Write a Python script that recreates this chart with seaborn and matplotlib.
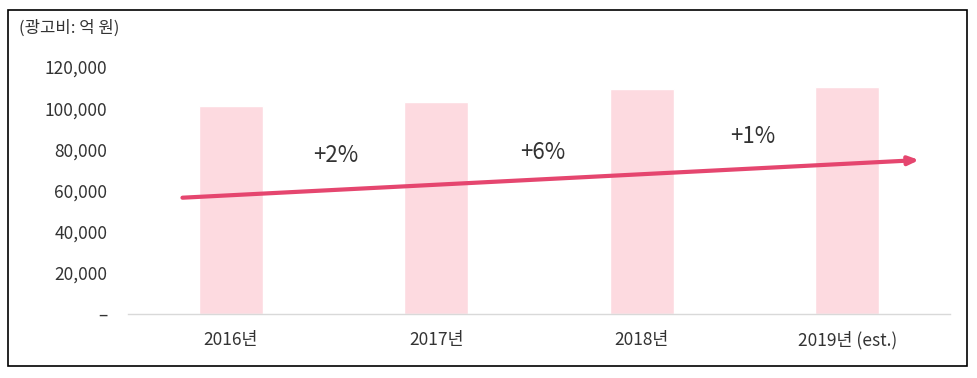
import pandas as pd
import seaborn as sns
import matplotlib as mpl
from matplotlib import pyplot as plt
from matplotlib.patches import Rectangle

sns.set_style("white")
plt.rcParams['font.family'] = ['Noto Sans CJK KR', 'DejaVu Sans']

# data (억 원)
years = ["2016년", "2017년", "2018년", "2019년 (est.)"]
spend = [100900, 102900, 109200, 110300]
growth_labels = ["+2%", "+6%", "+1%"]
growth_x = [0.51, 1.52, 2.54]
growth_y = [77200, 78600, 86400]
y_ticks = [0, 20000, 40000, 60000, 80000, 100000, 120000]

BAR_PINK = "#FDDAE0"
ARROW_PINK = "#E5466F"
TEXT_GRAY = "#333333"

df = pd.DataFrame({"year": years, "spend": spend})

W, H = 977, 378
fig = plt.figure(figsize=(W / 100, H / 100), dpi=100)
ax = fig.add_axes([128 / W, 1 - 314 / H, (950 - 128) / W, (314 - 67) / H])

sns.barplot(data=df, x="year", y="spend", color=BAR_PINK, width=0.31,
            saturation=1, ax=ax)

ax.set_xlim(-0.5, 3.5)
ax.set_ylim(0, 120000)
ax.set_yticks(y_ticks)
ax.set_yticklabels(["–" if v == 0 else f"{v:,}" for v in y_ticks])
ax.set_xlabel("")
ax.set_ylabel("")
ax.tick_params(axis="y", length=0, pad=15, labelsize=12.5, labelcolor=TEXT_GRAY)
ax.tick_params(axis="x", length=0, pad=12, labelsize=12.5, labelcolor=TEXT_GRAY)

for side in ["top", "right", "left"]:
    ax.spines[side].set_visible(False)
ax.spines["bottom"].set_color("#D9D9D9")
ax.spines["bottom"].set_linewidth(1)

# trend arrow
ax.annotate("", xy=(3.35, 74800), xytext=(-0.235, 56500),
            arrowprops=dict(arrowstyle="-|>,head_length=0.6,head_width=0.25",
                            color=ARROW_PINK, lw=3, shrinkA=0, shrinkB=0))

for lbl, gx, gy in zip(growth_labels, growth_x, growth_y):
    ax.text(gx, gy, lbl, ha="center", va="center", fontsize=16, color=TEXT_GRAY)

fig.text(19 / W, 1 - 28 / H, "(광고비: 억 원)", ha="left", va="center",
         fontsize=12, color=TEXT_GRAY)

fig.patches.append(Rectangle((8 / W, 1 - 366 / H), (967 - 8) / W, (366 - 10) / H,
                             transform=fig.transFigure, fill=False,
                             edgecolor="black", lw=1.2))

plt.savefig("out.png", dpi=100)
plt.close()
